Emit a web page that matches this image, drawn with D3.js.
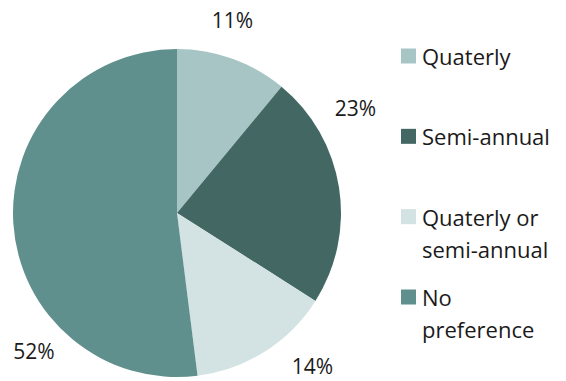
<!DOCTYPE html>
<html>
<head>
<meta charset="utf-8">
<script src="https://cdn.jsdelivr.net/npm/d3@7"></script>
<style>
  html, body { margin: 0; padding: 0; background: #fff; }
  svg { display: block; }
  text { font-family: "Open Sans", Lato, sans-serif; fill: #1a1a1a; }
</style>
</head>
<body>
<svg id="chart" width="566" height="381"></svg>
<script>
// Preferred reporting frequency
const categories = ["Quaterly", "Semi-annual", "Quaterly or semi-annual", "No preference"];
const legendLines = [["Quaterly"], ["Semi-annual"], ["Quaterly or", "semi-annual"], ["No", "preference"]];
const shares = [11, 23, 14, 52];
const colors = ["#a7c5c5", "#436864", "#d3e2e2", "#5f908d"];

// Label placement around the pie (angle in degrees clockwise from top, distance from centre)
const labelPlacement = [
  { angle: 16, dist: 201 },
  { angle: 59.5, dist: 207 },
  { angle: 138.4, dist: 204 },
  { angle: 226, dist: 199 }
];

const svg = d3.select("#chart");
const cx = 177, cy = 213, radius = 164;

const data = categories.map((c, i) => ({ name: c, value: shares[i], color: colors[i], lines: legendLines[i] }));

const pie = d3.pie().value(d => d.value).sort(null);
const arc = d3.arc().innerRadius(0).outerRadius(radius);

const g = svg.append("g").attr("transform", `translate(${cx},${cy})`);

g.selectAll("path.slice")
  .data(pie(data))
  .join("path")
  .attr("class", "slice")
  .attr("d", arc)
  .attr("fill", d => d.data.color)
  .attr("stroke", "none");

g.selectAll("text.pct")
  .data(pie(data))
  .join("text")
  .attr("class", "pct")
  .attr("text-anchor", "middle")
  .attr("dominant-baseline", "central")
  .attr("font-size", 21)
  .attr("x", (d, i) => labelPlacement[i].dist * Math.sin(labelPlacement[i].angle * Math.PI / 180))
  .attr("y", (d, i) => -labelPlacement[i].dist * Math.cos(labelPlacement[i].angle * Math.PI / 180))
  .text(d => d3.format(".0f")(d.data.value) + "%");

// Legend
const legendY = d3.scalePoint().domain(categories).range([56, 297]);
const legend = svg.append("g").attr("transform", "translate(401,0)");
const items = legend.selectAll("g.item")
  .data(data)
  .join("g")
  .attr("class", "item")
  .attr("transform", d => `translate(0,${legendY(d.name)})`);

items.append("rect")
  .attr("x", 0).attr("y", -7.5)
  .attr("width", 15).attr("height", 15)
  .attr("fill", d => d.color);

items.append("text")
  .attr("x", 21)
  .attr("y", 9)
  .attr("font-size", 22)
  .selectAll("tspan")
  .data(d => d.lines)
  .join("tspan")
  .attr("x", 21)
  .attr("dy", (d, i) => i === 0 ? 0 : 32)
  .text(d => d);
</script>
</body>
</html>
